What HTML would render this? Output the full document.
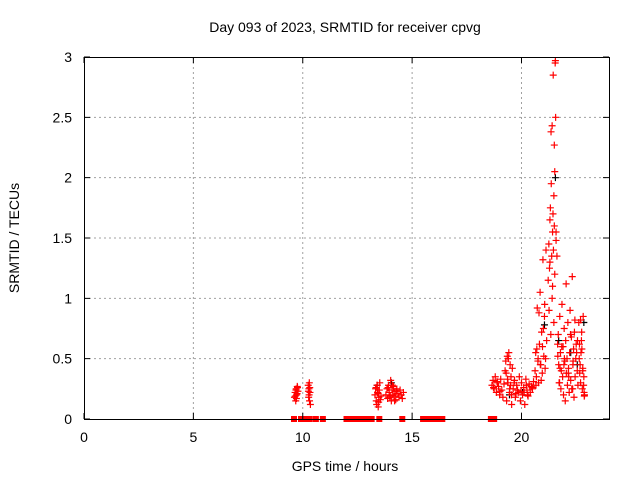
<!DOCTYPE html>
<html><head><meta charset="utf-8">
<style>
html,body{margin:0;padding:0;background:#fff;}
svg{display:block;font-family:"Liberation Sans",sans-serif;}
</style></head>
<body>
<svg id="chart" width="640" height="480">
<rect x="0" y="0" width="640" height="480" fill="#fff"/>
<text x="345" y="32" font-size="14" text-anchor="middle">Day 093 of 2023, SRMTID for receiver cpvg</text>
<text x="345" y="471" font-size="14" text-anchor="middle">GPS time / hours</text>
<text x="19" y="238" font-size="14" text-anchor="middle" transform="rotate(-90 19 238)">SRMTID / TECUs</text>
<g id="grid"></g>
<g id="marks"></g>
<g id="axes"></g>
</svg>
<script>
const xTicks = [0, 5, 10, 15, 20];
const yTicks = [0, 0.5, 1, 1.5, 2, 2.5, 3];
const yTickLabels = ["0", "0.5", "1", "1.5", "2", "2.5", "3"];
const redHours = [
9.62,9.65,9.68,9.70,9.72,9.75,9.78,9.66,9.71,9.74,9.69,9.76,
10.25,10.28,10.30,10.33,10.27,10.31,10.35,10.29,10.32,10.26,
13.30,13.33,13.36,13.40,13.42,13.45,13.48,13.50,13.52,13.55,13.38,13.44,13.58,13.35,13.47,
13.80,13.85,13.88,13.92,13.95,13.98,14.02,14.05,14.08,14.12,14.15,14.18,14.22,14.25,14.30,14.35,14.40,14.45,14.50,14.55,14.60,13.90,14.00,14.10,14.20,14.28,
18.65,18.70,18.75,18.80,18.85,18.90,18.95,19.00,19.05,19.10,19.15,19.20,18.72,18.88,19.02,
19.25,19.28,19.32,19.35,19.38,19.42,19.45,19.48,19.52,19.55,19.30,19.40,19.50,19.58,19.46,19.36,19.54,
19.62,19.68,19.72,19.78,19.85,19.90,19.95,20.00,20.05,20.10,20.15,20.20,20.25,20.30,20.35,20.40,20.45,20.50,20.55,19.75,19.98,20.22,20.48,19.66,19.82,20.12,20.28,
20.62,20.65,20.68,20.72,20.75,20.78,20.82,20.85,20.88,20.92,20.95,20.98,21.02,21.05,21.08,21.12,21.15,20.70,20.80,20.90,21.00,21.10,20.66,20.86,21.06,20.76,20.96,
21.22,21.25,21.28,21.30,21.32,21.35,21.38,21.40,21.42,21.45,21.48,21.50,21.52,21.55,21.58,21.36,21.44,21.54,21.56,21.50,21.46,21.30,21.26,21.40,21.48,21.52,21.34,21.42,21.58,
21.62,21.65,21.68,21.70,21.72,21.75,21.78,21.80,21.82,21.85,21.88,21.90,21.92,21.95,21.98,22.00,22.02,22.05,22.08,22.10,22.12,22.15,22.18,22.20,22.22,22.25,22.28,22.30,22.32,22.35,22.38,22.40,22.42,22.45,22.48,22.50,22.55,22.58,21.66,21.74,21.84,21.94,22.04,22.14,22.24,22.34,22.44,22.52,21.76,21.96,22.16,22.36,22.56,
22.62,22.65,22.68,22.70,22.72,22.75,22.78,22.80,22.82,22.85,22.88,22.64,22.74,22.84,22.66,22.76,22.86,22.70,22.80,22.87
];
const redValues = [
0.18,0.22,0.15,0.25,0.20,0.27,0.23,0.19,0.17,0.21,0.24,0.26,
0.28,0.25,0.30,0.22,0.18,0.15,0.12,0.20,0.26,0.23,
0.20,0.25,0.15,0.28,0.22,0.10,0.18,0.24,0.30,0.16,0.12,0.21,0.19,0.26,0.14,
0.20,0.25,0.17,0.28,0.22,0.18,0.32,0.15,0.24,0.20,0.27,0.19,0.23,0.16,0.25,0.21,0.18,0.24,0.20,0.17,0.22,0.26,0.19,0.28,0.15,0.23,
0.28,0.32,0.25,0.35,0.22,0.30,0.27,0.20,0.33,0.24,0.18,0.29,0.26,0.31,0.23,
0.40,0.48,0.15,0.52,0.30,0.55,0.22,0.45,0.35,0.12,0.38,0.50,0.28,0.42,0.25,0.33,0.20,
0.25,0.32,0.18,0.28,0.22,0.35,0.15,0.30,0.20,0.26,0.12,0.33,0.24,0.19,0.29,0.22,0.27,0.25,0.31,0.21,0.23,0.28,0.26,0.30,0.24,0.22,0.20,
0.40,0.55,0.35,0.92,0.48,0.30,0.62,1.05,0.45,0.72,0.38,1.32,0.52,0.85,0.42,1.40,0.65,0.58,0.88,0.32,0.75,0.50,0.28,0.45,0.95,0.50,0.60,
1.15,1.45,1.25,1.65,1.75,2.38,1.35,2.43,1.55,2.85,1.85,2.27,2.05,2.97,1.55,1.95,1.70,2.95,2.50,1.60,1.40,1.30,0.90,1.00,0.80,1.20,0.70,1.10,1.48,
1.35,0.62,0.70,0.45,0.30,0.85,0.55,0.25,0.40,0.95,0.35,0.60,0.20,0.75,0.48,0.15,0.65,0.38,0.50,0.28,0.80,0.42,0.22,0.55,0.90,0.32,0.68,0.25,1.18,0.45,0.58,0.18,0.72,0.35,0.50,0.62,0.40,0.28,0.52,0.30,0.60,0.45,1.12,0.38,0.70,0.25,0.82,0.55,0.42,0.50,0.35,0.48,0.65,
0.80,0.62,0.45,0.30,0.55,0.72,0.25,0.40,0.85,0.35,0.20,0.50,0.65,0.28,0.38,0.58,0.22,0.82,0.42,0.19
];
const blackHours = [13.40,14.05,19.45,20.05,21.05,21.55,21.70,22.25,22.55,22.85];
const blackValues = [0.28,0.30,0.20,0.22,0.78,2.00,0.65,0.55,0.45,0.80];
const zeroHours = [9.60,9.92,10.05,10.18,10.32,10.60,10.92,12.00,12.20,12.35,12.50,12.70,12.95,13.15,13.50,14.55,15.50,15.65,15.80,15.95,16.10,16.25,16.38,18.60,18.75];

const X0=84, X1=609, Y0=419, Y1=57, XMAX=24, YMAX=3;
const xs = h => X0 + (h/XMAX)*(X1-X0);
const ys = v => Y0 - (v/YMAX)*(Y0-Y1);
const NS="http://www.w3.org/2000/svg";
function mk(tag, attrs, parent){const e=document.createElementNS(NS,tag);for(const k in attrs)e.setAttribute(k,attrs[k]);parent.appendChild(e);return e;}
const grid=document.getElementById('grid'), marks=document.getElementById('marks'), axes=document.getElementById('axes');

xTicks.forEach(t=>{
  const x=xs(t);
  if(t>0){const g=mk('line',{x1:x,y1:Y0,x2:x,y2:Y1,stroke:'#a0a0a0','stroke-dasharray':'2,3','stroke-width':1},grid);
  
  }
  const tk=mk('path',{d:`M${x},${Y0}v-6M${x},${Y1}v6`,stroke:'#000','stroke-width':1},axes);
  
  
  const lb=mk('text',{x:x,y:Y0+23,'font-size':14,'text-anchor':'middle'},axes);
  lb.textContent=String(t);
  
  
});
yTicks.forEach((t,i)=>{
  const y=ys(t);
  if(t>0&&t<YMAX){const g=mk('line',{x1:X0,y1:y,x2:X1,y2:y,stroke:'#a0a0a0','stroke-dasharray':'2,3','stroke-width':1},grid);
  
  }
  const tk=mk('path',{d:`M${X0},${y}h6M${X1},${y}h-6`,stroke:'#000','stroke-width':1},axes);
  
  
  const lb=mk('text',{x:X0-12,y:y+5,'font-size':14,'text-anchor':'end'},axes);
  lb.textContent=yTickLabels[i];
  
  
});
const frame=mk('rect',{x:X0+0.5,y:Y1+0.5,width:X1-X0,height:Y0-Y1,fill:'none',stroke:'#000','stroke-width':1},axes);



function plus(h,v,color,name){
  const x=xs(h), y=ys(v);
  const p=mk('path',{d:`M${x-3.5},${y}h7M${x},${y-3.5}v7`,stroke:color,'stroke-width':1.2},marks);
  
  
}
blackHours.forEach((h,i)=>plus(h,blackValues[i],'#000','black-point'));
redHours.forEach((h,i)=>plus(h,redValues[i],'#ff0000','red-point'));
zeroHours.forEach(h=>{
  const r=mk('rect',{x:xs(h)-3,y:Y0-3,width:6,height:6,fill:'#ff0000'},marks);
  
  
});
</script>
</body></html>
